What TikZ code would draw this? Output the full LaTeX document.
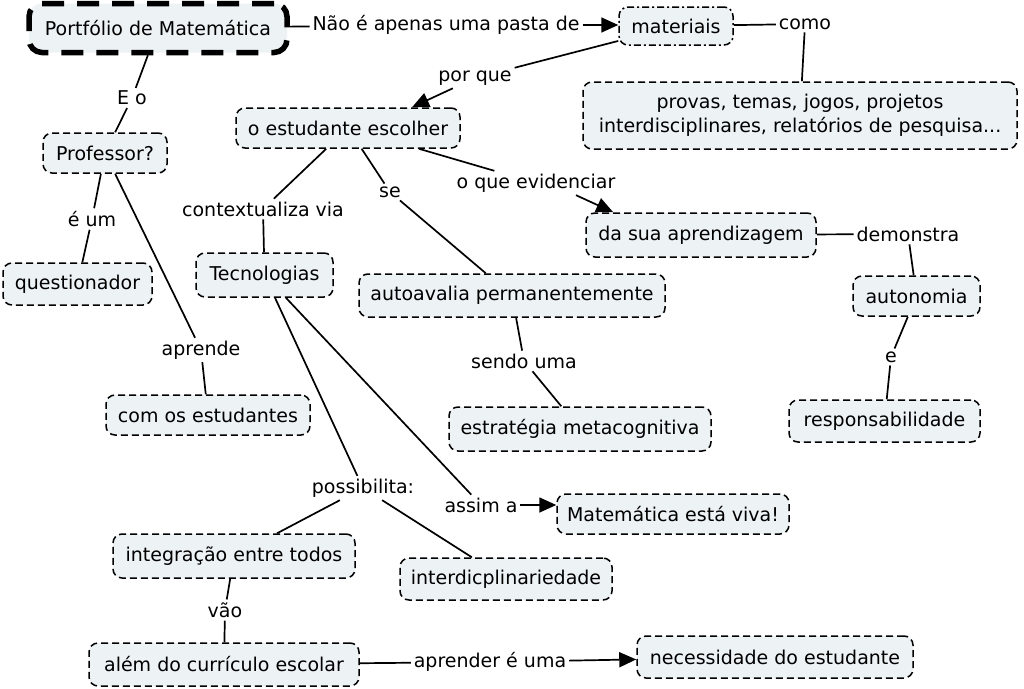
\documentclass[tikz,border=0pt]{standalone}
\usepackage{fontspec}
\setmainfont{DejaVu Sans}
\usetikzlibrary{arrows.meta,calc}
\definecolor{boxfill}{HTML}{EDF2F4}
\tikzset{
  concept/.style={draw=black, fill=boxfill, line width=1.5pt, dash pattern=on 7pt off 4pt,
    rounded corners=9pt, align=center, inner sep=0pt},
  bx/.style 2 args={minimum width=#1pt, minimum height=#2pt},
  lab/.style={inner sep=3pt, outer sep=0pt},
  conn/.style={line width=1.7pt, solid},
  arr/.style={conn, -{Triangle[length=17pt,width=15pt]}}
}
\begin{document}
\begin{tikzpicture}[x=1pt,y=-1pt,font=\fontsize{19}{23.5}\selectfont]
\useasboundingbox (0,0) rectangle (1024,688);
% concepts
\node[concept, line width=5.5pt, dash pattern=on 22pt off 13pt, rounded corners=13pt, bx={258}{49}] (port) at (158,28) {Portfólio de Matemática};
\node[concept, dash pattern=on 7pt off 3pt on 2pt off 3pt, bx={114}{38}] (mat) at (676,26) {materiais};
\node[concept, bx={434}{67}] (prov) at (800,115.5) {provas, temas, jogos, projetos\\interdisciplinares, relatórios de pesquisa...};
\node[concept, bx={224}{40}] (est) at (348,128) {o estudante escolher};
\node[concept, bx={124}{40}] (prof) at (105,153) {Professor?};
\node[concept, bx={149}{42}] (quest) at (77.5,284) {questionador};
\node[concept, bx={204}{40}] (com) at (208,415) {com os estudantes};
\node[concept, bx={137}{44}] (tec) at (264.5,275) {Tecnologias};
\node[concept, bx={306}{43}] (auto) at (512,295.5) {autoavalia permanentemente};
\node[concept, bx={262}{44}] (estr) at (580,429) {estratégia metacognitiva};
\node[concept, bx={230}{44}] (da) at (701,235) {da sua aprendizagem};
\node[concept, bx={127}{40}] (auton) at (916.5,296) {autonomia};
\node[concept, bx={191}{42}] (resp) at (884.5,421) {responsabilidade};
\node[concept, bx={232}{40}] (viva) at (673,514) {Matemática está viva!};
\node[concept, bx={242}{44}] (integ) at (234,556) {integração entre todos};
\node[concept, bx={212}{42}] (inter) at (506,579) {interdicplinariedade};
\node[concept, bx={270}{43}] (alem) at (224,664.5) {além do currículo escolar};
\node[concept, bx={276}{42}] (nec) at (775,657) {necessidade do estudante};
% linking phrases
\node[lab] (l1) at (446,25) {Não é apenas uma pasta de};
\node[lab] (l2) at (805,24) {como};
\node[lab] (l3) at (475,78) {por que};
\node[lab] (l4) at (132,98) {E o};
\node[lab] (l5) at (92,219) {é um};
\node[lab] (l6) at (263,209) {contextualiza via};
\node[lab] (l7) at (390,192) {se};
\node[lab] (l8) at (536,183) {o que evidenciar};
\node[lab] (l9) at (908,234) {demonstra};
\node[lab] (l10) at (891,357) {e};
\node[lab] (l11) at (201,350) {aprende};
\node[lab] (l12) at (524,361) {sendo uma};
\node[lab] (l13) at (363,488) {possibilita:};
\node[lab] (l14) at (481,505) {assim a};
\node[lab] (l15) at (225,610) {vão};
\node[lab] (l16) at (490,662) {aprender é uma};
% connectors
\draw[conn] (port) -- (l1);
\draw[arr] (l1.east) -- (mat.west |- l1.east);
\draw[conn] (mat) -- (l2);
\draw[conn] (l2) -- (prov);
\draw[conn] (mat) -- (l3);
\draw[arr] (l3) -- ($(est.north)+(64,0)$);
\draw[conn] (port) -- (l4);
\draw[conn] (l4) -- (prof);
\draw[conn] (prof) -- (l5);
\draw[conn] (l5) -- (quest);
\draw[conn] (prof) -- (l11);
\draw[conn] (l11) -- (com);
\draw[conn] (est) -- (l6);
\draw[conn] (l6) -- (tec);
\draw[conn] (est) -- (l7);
\draw[conn] (l7) -- (auto);
\draw[conn] (est) -- (l8);
\draw[arr] ($(l8.south)+(40,0)$) -- ($(da.north west)+(28,0)$);
\draw[conn] (da) -- (l9);
\draw[conn] (l9) -- (auton);
\draw[conn] (auton) -- (l10);
\draw[conn] (l10) -- (resp);
\draw[conn] (auto) -- (l12);
\draw[conn] (l12) -- (estr);
\draw[conn] (tec) -- (l13);
\draw[conn] (l13) -- (integ);
\draw[conn] (l13) -- (inter);
\draw[conn] (tec) -- (l14);
\draw[arr] (l14.east) -- (viva.west |- l14.east);
\draw[conn] (integ) -- (l15);
\draw[conn] (l15) -- (alem);
\draw[conn] (alem) -- (l16);
\draw[arr] (l16) -- (nec);
\end{tikzpicture}
\end{document}
